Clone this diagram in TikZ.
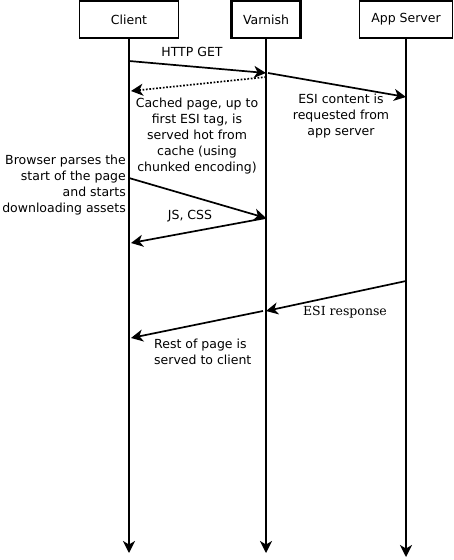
\documentclass[tikz,border=0pt]{standalone}
\usepackage{fontspec}
\setmainfont{DejaVu Sans}
\newfontfamily\respfont{DejaVu Serif}
\usetikzlibrary{arrows.meta}
\tikzset{
  actor/.style={draw, line width=1.3pt, outer sep=0pt, minimum height=37pt,
    font=\fontsize{12.5}{16}\selectfont},
  msg/.style={line width=1.7pt, -{Stealth[length=12pt,width=12pt,inset=3.5pt]}},
  note/.style={font=\fontsize{12.5}{16}\selectfont, inner sep=0pt, align=center},
}
% lifeline below an actor box
\newcommand{\lifeline}[3]{
  \coordinate (#1end) at (#2,#3);
  \draw[msg] (#1.south) -- (#1end);
}

\begin{document}
\begin{tikzpicture}[x=1pt,y=-1pt]
  \useasboundingbox (0,0) rectangle (453,560);

  \node[actor, minimum width=99pt] (client) at (129,19.5) {Client};
  \node[actor, minimum width=69pt, line width=2.2pt] (varnish) at (266,19.5) {Varnish};
  \node[actor, minimum width=93pt] (appserver) at (406,19.5) {App Server};

  \lifeline{client}{129}{553}
  \lifeline{varnish}{266}{553}
  \lifeline{appserver}{406}{557}

  % points on the lifelines
  \coordinate (cGet) at (129,61);
  \coordinate (vGet) at (266,73);
  \coordinate (vEsi) at (268,73);
  \coordinate (aEsi) at (406,97);
  \coordinate (vHot) at (266,77);
  \coordinate (cHot) at (131,91);
  \coordinate (cAsset) at (129,178);
  \coordinate (vAsset) at (266,218);
  \coordinate (vCss) at (266,218);
  \coordinate (cCss) at (131,243);
  \coordinate (aResp) at (406,281);
  \coordinate (vResp) at (266,311);
  \coordinate (vRest) at (263,311);
  \coordinate (cRest) at (131,338);

  \draw[msg] (cGet) -- (vGet);
  \draw[msg] (vEsi) -- (aEsi);
  \draw[msg, dash pattern=on 1.7pt off 1.7pt] (vHot) -- (cHot);
  \draw[msg] (cAsset) -- (vAsset);
  \draw[msg] (vCss) -- (cCss);
  \draw[msg] (aResp) -- (vResp);
  \draw[msg] (vRest) -- (cRest);

  \node[note] (httpget) at (192,52) {HTTP GET};
  \node[note] (esireq) at (341,116) {ESI content is\\requested from\\app server};
  \node[note] (cached) at (197,136) {Cached page, up to\\first ESI tag, is\\served hot from\\cache (using\\chunked encoding)};
  \node[note, anchor=east, align=right] (browser) at (126,185) {Browser parses the\\start of the page\\and starts\\downloading assets};
  \node[note] (jscss) at (190,216) {JS, CSS};
  \node[note, font=\fontsize{12.5}{16}\respfont] (esiresp) at (345,312) {ESI response};
  \node[note, anchor=west, align=left] (rest) at (154,352) {Rest of page is\\served to client};
\end{tikzpicture}
\end{document}
